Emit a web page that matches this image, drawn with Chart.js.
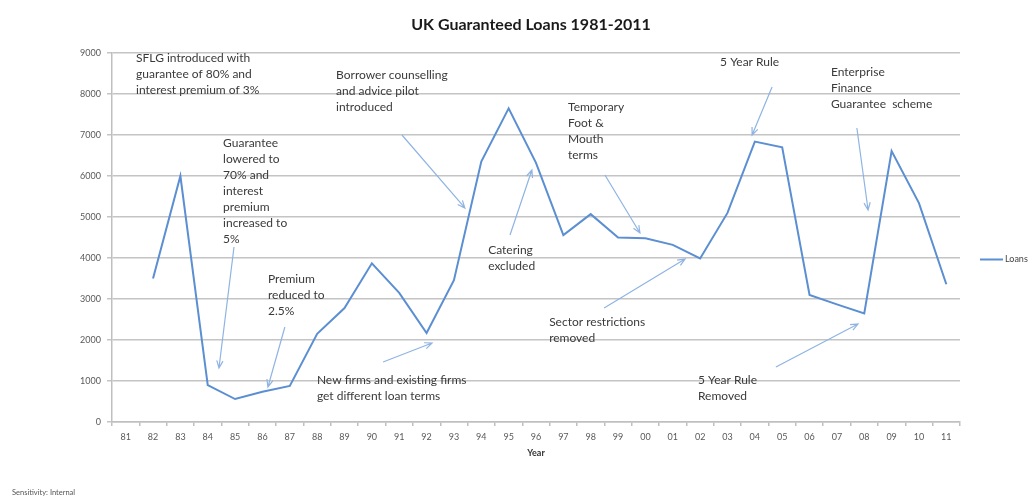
<!DOCTYPE html>
<html>
<head>
<meta charset="utf-8">
<script src="https://cdn.jsdelivr.net/npm/chart.js@4.4.1/dist/chart.umd.min.js"></script>
<style>
  html, body { margin: 0; padding: 0; background: #fff; }
  #wrap { width: 1034px; height: 501px; position: relative; }
</style>
</head>
<body>
<div id="wrap"><canvas id="chart"></canvas></div>
<script>
const years = ['81','82','83','84','85','86','87','88','89','90','91','92','93','94','95','96',
               '97','98','99','00','01','02','03','04','05','06','07','08','09','10','11'];
const loans = [null, 3500, 6000, 900, 560, 740, 880, 2150, 2780, 3870, 3150, 2170, 3460, 6350, 7650, 6320,
               4560, 5070, 4500, 4480, 4320, 3990, 5100, 6840, 6700, 3100, 2870, 2650, 6610, 5340, 3360];
const yTicks = [0, 1000, 2000, 3000, 4000, 5000, 6000, 7000, 8000, 9000];

// annotation notes: text anchored at (category index, value), arrow from -> to in same units
const notes = [
  { lines: ['SFLG introduced with', 'guarantee of 80% and', 'interest premium of 3%'], at: [0.38, 8878] },
  { lines: ['Guarantee', 'lowered to', '70% and', 'interest', 'premium', 'increased to', '5%'], at: [3.56, 6805],
    from: [3.96, 4268], to: [3.41, 1317] },
  { lines: ['Premium', 'reduced to', '2.5%'], at: [5.2, 3488], from: [5.82, 2317], to: [5.2, 854] },
  { lines: ['Borrower counselling', 'and advice pilot', 'introduced'], at: [7.69, 8463],
    from: [10.1, 7000], to: [12.4, 5220] },
  { lines: ['Temporary', 'Foot &', 'Mouth', 'terms'], at: [16.17, 7683], from: [17.52, 6024], to: [18.8, 4610] },
  { lines: ['Catering', 'excluded'], at: [13.25, 4195], from: [14.05, 4561], to: [14.85, 6146] },
  { lines: ['New firms and existing firms', 'get different loan terms'], at: [6.99, 1024],
    from: [9.41, 1463], to: [11.2, 1927] },
  { lines: ['Sector restrictions', 'removed'], at: [15.48, 2439], from: [17.49, 2780], to: [20.45, 3976] },
  { lines: ['5 Year Rule'], at: [21.73, 8780], from: [23.63, 8171], to: [22.9, 7000] },
  { lines: ['Enterprise', 'Finance', 'Guarantee  scheme'], at: [25.78, 8537], from: [26.73, 7171], to: [27.14, 5171] },
  { lines: ['5 Year Rule', 'Removed'], at: [20.92, 1024], from: [23.77, 1341], to: [26.77, 2390] }
];

const lineColor = '#5b8fd2';
const arrowColor = '#8fb4e3';
const textColor = '#3a3a3a';

const extras = {
  id: 'extras',
  afterDatasetsDraw(chart) {
    const { ctx, chartArea, scales: { x, y } } = chart;
    const px = v => x.getPixelForValue(0) + v * (x.getPixelForValue(1) - x.getPixelForValue(0));
    ctx.save();

    // title
    ctx.fillStyle = '#1a1a1a';
    ctx.font = 'bold 16px Lato';
    ctx.textAlign = 'center';
    ctx.textBaseline = 'middle';
    ctx.fillText('UK Guaranteed Loans 1981-2011', (chartArea.left + chartArea.right) / 2 - 5, 25);

    // notes
    ctx.font = '12px Lato';
    ctx.textAlign = 'left';
    notes.forEach(n => {
      const tx = px(n.at[0]), ty = y.getPixelForValue(n.at[1]);
      ctx.fillStyle = textColor;
      n.lines.forEach((l, i) => ctx.fillText(l, tx, ty + i * 16));
      if (n.from) {
        const x1 = px(n.from[0]), y1 = y.getPixelForValue(n.from[1]);
        const x2 = px(n.to[0]), y2 = y.getPixelForValue(n.to[1]);
        ctx.strokeStyle = arrowColor;
        ctx.lineWidth = 1.2;
        ctx.beginPath();
        ctx.moveTo(x1, y1);
        ctx.lineTo(x2, y2);
        const a = Math.atan2(y2 - y1, x2 - x1);
        ctx.moveTo(x2 - 8 * Math.cos(a - 0.4), y2 - 8 * Math.sin(a - 0.4));
        ctx.lineTo(x2, y2);
        ctx.lineTo(x2 - 8 * Math.cos(a + 0.4), y2 - 8 * Math.sin(a + 0.4));
        ctx.stroke();
      }
    });

    // legend
    const ly = (chartArea.top + chartArea.bottom) / 2 + 22;
    ctx.strokeStyle = lineColor;
    ctx.lineWidth = 2;
    ctx.beginPath();
    ctx.moveTo(980, ly);
    ctx.lineTo(1003, ly);
    ctx.stroke();
    ctx.fillStyle = '#444';
    ctx.font = '9px Lato';
    ctx.textBaseline = 'middle';
    ctx.fillText(chart.data.datasets[0].label, 1005, ly);

    // footer
    ctx.fillStyle = '#555';
    ctx.font = '7.5px Lato';
    ctx.fillText('Sensitivity: Internal', 12, 493);
    ctx.restore();
  }
};

new Chart(document.getElementById('chart'), {
  type: 'line',
  data: {
    labels: years,
    datasets: [{
      label: 'Loans',
      data: loans,
      borderColor: lineColor,
      borderWidth: 2,
      pointRadius: 0,
      fill: false,
      tension: 0
    }]
  },
  options: {
    responsive: true,
    maintainAspectRatio: false,
    animation: false,
    layout: { padding: { left: 0, right: 74, top: 53, bottom: 39 } },
    plugins: {
      legend: { display: false },
      title: { display: false },
      tooltip: { enabled: false }
    },
    scales: {
      x: {
        offset: true,
        afterFit: s => { s.height = 40; },
        grid: { offset: true, drawOnChartArea: false, drawTicks: true, tickLength: 4, color: '#bfbfbf', lineWidth: 1.5 },
        border: { color: '#bfbfbf', width: 1.5 },
        ticks: { color: '#595959', font: { family: 'Lato', size: 9 }, padding: 6, maxRotation: 0, autoSkip: false },
        title: { display: true, text: 'Year', color: '#333', font: { family: 'Lato', size: 9, weight: 'bold' }, padding: { top: 2 } }
      },
      y: {
        min: 0,
        max: 9000,
        afterFit: s => { s.width = 112; },
        afterBuildTicks: s => { s.ticks = yTicks.map(v => ({ value: v })); },
        grid: { color: '#c4c4c4', lineWidth: 1.5, tickLength: 5 },
        border: { color: '#bfbfbf', width: 1.5 },
        ticks: { color: '#595959', font: { family: 'Lato', size: 9 }, padding: 6, callback: v => String(v) }
      }
    }
  },
  plugins: [extras]
});
</script>
</body>
</html>
